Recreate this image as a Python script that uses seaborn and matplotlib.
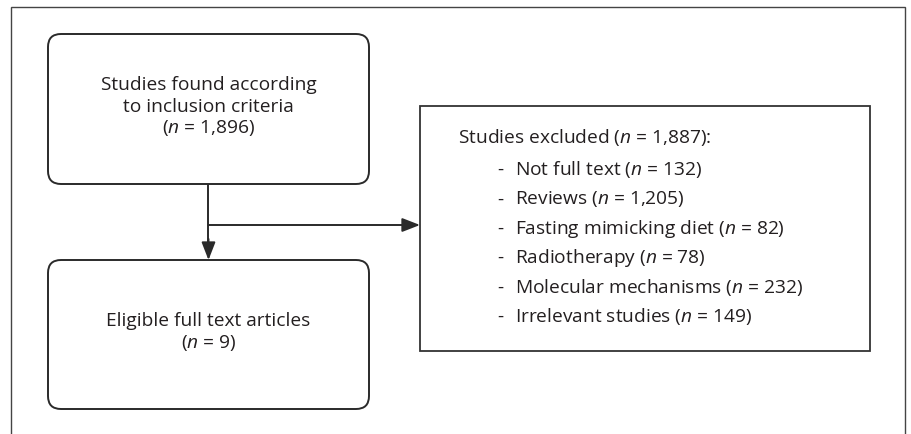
import matplotlib
matplotlib.use("Agg")
import matplotlib.pyplot as plt
import seaborn as sns
from matplotlib.patches import FancyBboxPatch, Rectangle

sns.set_theme(style="white")
plt.rcParams['font.family'] = ['Open Sans', 'DejaVu Sans']
plt.rcParams['mathtext.fontset'] = 'custom'
plt.rcParams['mathtext.rm'] = 'Open Sans'
plt.rcParams['mathtext.it'] = 'Open Sans:italic'

# ---- data ----
found_label = ["Studies found according", "to inclusion criteria"]
found_n = "1,896"
eligible_label = ["Eligible full text articles"]
eligible_n = "9"
excluded_title = "Studies excluded"
excluded_n = "1,887"
excluded_reasons = ["Not full text", "Reviews", "Fasting mimicking diet",
                    "Radiotherapy", "Molecular mechanisms", "Irrelevant studies"]
excluded_counts = ["132", "1,205", "82", "78", "232", "149"]

W, H = 912, 435
fig = plt.figure(figsize=(W / 100, H / 100), dpi=100)
ax = fig.add_axes([0, 0, 1, 1])
ax.set_xlim(0, W)
ax.set_ylim(H, 0)
ax.axis("off")

TXT = "#231f20"
LC = "#2a2a2a"
FS = 13.8

def nlab(v):
    return f"($\\it{{n}}$ = {v})"

# outer frame (open at bottom)
ax.plot([11.5, 11.5, 905, 905], [H + 5, 8, 8, H + 5], color="#444444", lw=1.0,
        solid_joinstyle="miter")

def rbox(x0, y0, x1, y1):
    p = FancyBboxPatch((x0, y0), x1 - x0, y1 - y0,
                       boxstyle="round,pad=0,rounding_size=13",
                       fc="white", ec=LC, lw=1.4, zorder=3)
    ax.add_patch(p)

# box 1
rbox(48, 35, 369, 185)
lines = found_label + [nlab(found_n)]
for i, t in enumerate(lines):
    ax.text(208.5, 85 + i * 21.5, t, ha="center", va="center", fontsize=FS,
            color=TXT, zorder=4)

# box 2
rbox(48, 261, 369, 410)
lines = eligible_label + [nlab(eligible_n)]
for i, t in enumerate(lines):
    ax.text(208.5, 321 + i * 22.5, t, ha="center", va="center", fontsize=FS,
            color=TXT, zorder=4)

# excluded box
ax.add_patch(Rectangle((420, 107), 450, 245, fc="white", ec="#333333", lw=1.3,
                       zorder=3))
ax.text(458, 138, f"{excluded_title} {nlab(excluded_n)}:", ha="left",
        va="center", fontsize=FS, color=TXT, zorder=4)
for i, (r, c) in enumerate(zip(excluded_reasons, excluded_counts)):
    y = 170 + i * 29.4
    ax.text(497, y, "-", ha="left", va="center", fontsize=FS, color=TXT, zorder=4)
    ax.text(515, y, f"{r} {nlab(c)}", ha="left", va="center",
            fontsize=FS, color=TXT, zorder=4)

# connectors
ax.plot([208.5, 208.5], [185, 248], color=LC, lw=1.4, zorder=2)
ax.annotate("", xy=(208.5, 261), xytext=(208.5, 240),
            arrowprops=dict(arrowstyle="-|>,head_length=0.9,head_width=0.35",
                            color=LC, lw=1.4, shrinkA=0, shrinkB=0), zorder=2)
ax.annotate("", xy=(420, 226), xytext=(208.5, 226),
            arrowprops=dict(arrowstyle="-|>,head_length=0.9,head_width=0.35",
                            color=LC, lw=1.4, shrinkA=0, shrinkB=0), zorder=2)

fig.savefig("out.png", dpi=100, facecolor="white")
